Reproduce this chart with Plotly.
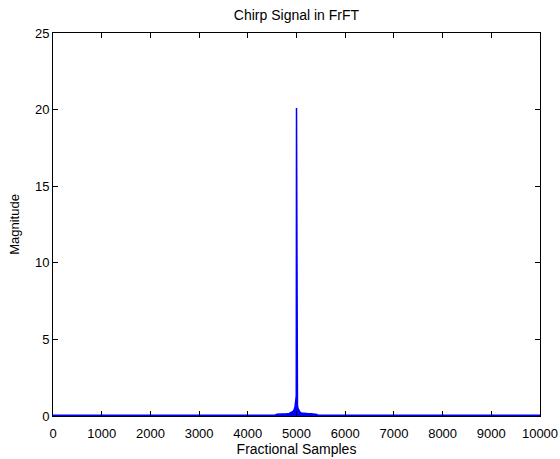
import plotly.graph_objects as go

# Envelope of the FrFT magnitude
samples_x = [0, 4560, 4600, 4650, 4700, 4750, 4800, 4850, 4900, 4930, 4950, 4970,
             4980, 4990, 4995, 5000, 5005, 5010, 5020, 5030, 5050, 5070, 5100, 5150,
             5200, 5250, 5300, 5350, 5400, 5420, 5440, 10000]
magnitude = [0.05, 0.05, 0.12, 0.12, 0.14, 0.14, 0.15, 0.17, 0.22, 0.3, 0.4, 0.6,
             0.9, 1.25, 1.3, 20.1, 1.25, 1.1, 0.7, 0.5, 0.35, 0.25, 0.2, 0.17,
             0.15, 0.14, 0.14, 0.12, 0.12, 0.1, 0.05, 0.05]

x_ticks = [0, 1000, 2000, 3000, 4000, 5000, 6000, 7000, 8000, 9000, 10000]
y_ticks = [0, 5, 10, 15, 20, 25]

fig = go.Figure()
fig.add_trace(go.Scatter(
    x=samples_x, y=magnitude, mode="lines",
    line=dict(color="#0000ff", width=1.5),
    fill="tozeroy", fillcolor="#0000ff",
    showlegend=False, hoverinfo="skip",
))

fam = "Liberation Sans, Arial, sans-serif"
tick_font = dict(family=fam, size=13, color="black")
title_font = dict(family=fam, size=14, color="black")
axis_common = dict(
    showgrid=False, zeroline=False, showline=True, linecolor="black", linewidth=1,
    mirror="ticks", ticks="inside", ticklen=5, tickcolor="black", tickwidth=1,
    tickfont=tick_font, automargin=False,
)
fig.update_layout(
    width=560, height=459,
    margin=dict(l=53, r=20, t=33, b=43),
    paper_bgcolor="white", plot_bgcolor="white",
    title=dict(text="Chirp Signal in FrFT", x=(53 + 540) / 2 / 560, xanchor="center",
               y=1 - 15 / 459, yanchor="middle", font=title_font),
    xaxis=dict(range=[0, 10000], tickvals=x_ticks,
               ticktext=[str(v) for v in x_ticks], ticklabelstandoff=5,
               title=dict(text="Fractional Samples", font=title_font, standoff=2),
               **axis_common),
    yaxis=dict(range=[0, 25], tickvals=y_ticks,
               ticktext=[str(v) for v in y_ticks],
               title=dict(text="Magnitude", font=dict(family=fam, size=13, color="black"),
                          standoff=12),
               **axis_common),
)
fig.write_html("out.html")
